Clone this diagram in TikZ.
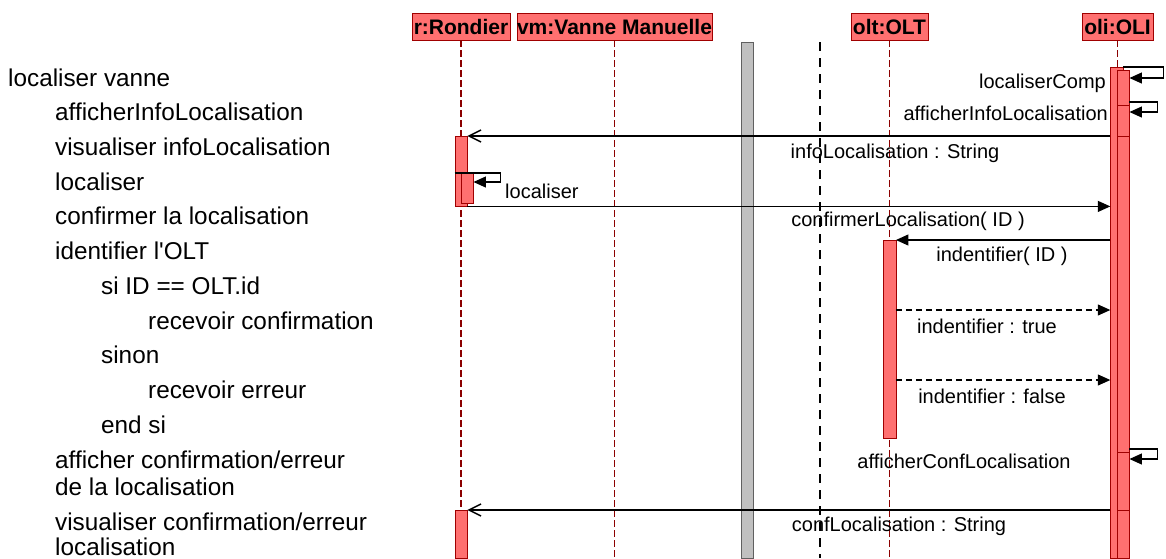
\documentclass[tikz,border=0pt]{standalone}
\usepackage{fontspec}
\setmainfont{Liberation Sans}
\usetikzlibrary{arrows.meta}
\definecolor{actfill}{HTML}{FF7070}
\definecolor{actline}{HTML}{A00000}
\definecolor{lifecol}{HTML}{8B0000}
\definecolor{barfill}{HTML}{C0C0C0}
\definecolor{barline}{HTML}{606060}

\begin{document}
\begin{tikzpicture}[x=1pt,y=-1pt]
    \tikzset{head/.style = {shape=rectangle,draw=actline,fill=actfill,minimum height=27pt,inner sep=0pt,font=\bfseries\fontsize{21}{25}\selectfont}}
    \tikzset{act/.style = {shape=rectangle,draw=actline,fill=actfill,minimum width=12.5pt,inner sep=0pt,anchor=north}}
    \tikzset{life/.style = {draw=lifecol,line width=1.8pt,dash pattern=on 7pt off 3pt}}
    \tikzset{guard/.style = {draw=black,line width=1.8pt,dash pattern=on 9pt off 7pt}}
    \tikzset{txt/.style = {anchor=base west,inner sep=0pt,font=\fontsize{24.3}{29}\selectfont}}
    \tikzset{lbl/.style = {anchor=base,inner sep=0pt,font=\fontsize{20}{24}\selectfont}}
    \tikzset{call/.style = {line width=1.2pt,-{Triangle[length=12.5pt,width=11pt]}}}
    \tikzset{reply/.style = {call,dash pattern=on 6pt off 4pt}}
    \tikzset{ret/.style = {line width=1.2pt,-{Straight Barb[length=12pt,width=12pt,line width=1.4pt]}}}

    \useasboundingbox (0,0) rectangle (1166,558);
    \coordinate (bot) at (0,558);

    % left text
    \node[txt] (t0) at (8,86) {localiser vanne};
    \node[txt] (t1) at (55,120) {afficherInfoLocalisation};
    \node[txt] (t2) at (55,155) {visualiser infoLocalisation};
    \node[txt] (t3) at (55,190) {localiser};
    \node[txt] (t4) at (55,224) {confirmer la localisation};
    \node[txt] (t5) at (55,259) {identifier l\textquotesingle OLT};
    \node[txt] (t6) at (101,294) {si ID == OLT.id};
    \node[txt] (t7) at (148,329) {recevoir confirmation};
    \node[txt] (t8) at (101,363) {sinon};
    \node[txt] (t9) at (148,398) {recevoir erreur};
    \node[txt] (t10) at (101,433) {end si};
    \node[txt] (t11) at (55,468) {afficher confirmation/erreur};
    \node[txt] (t12) at (55,495) {de la localisation};
    \node[txt] (t13) at (55,530) {visualiser confirmation/erreur};
    \node[txt] (t14) at (55,555) {localisation};

    % heads
    \node[head,minimum width=98pt] (r) at (461,26.5) {r:Rondier};
    \node[head,minimum width=195pt] (vm) at (614.5,26.5) {vm:Vanne Manuelle};
    \node[head,minimum width=77pt] (olt) at (889.5,26.5) {olt:OLT};
    \node[head,minimum width=71pt] (oli) at (1117.5,26.5) {oli:OLI};

    % lifelines
    \draw[life] (r.south) -- (r.south |- bot);
    \draw[life] (vm.south) -- (vm.south |- bot);
    \draw[life] (olt.south) -- (olt.south |- bot);
    \draw[life] (oli.south) -- (oli.south |- bot);
    \node[shape=rectangle,draw=barline,fill=barfill,line width=1pt,minimum width=12pt,minimum height=516pt,inner sep=0pt,anchor=north] (sep) at (747,42) {};
    \coordinate (g1) at (820,42);
    \coordinate (g2) at (820,558);
    \draw[guard] (g1) -- (g2);

    % activations
    \node[act,minimum height=70pt] (ra1) at (461,136) {};
    \node[act,minimum height=30pt] (ra2) at (467,173) {};
    \node[act,minimum height=48pt] (ra3) at (461,510) {};
    \node[act,minimum height=198pt] (ta) at (889.5,240) {};
    \node[act,minimum height=491pt] (oa1) at (1116.75,67) {};
    \node[act,minimum height=488pt] (oa2) at (1123,70) {};
    \node[act,minimum height=31pt] (oa3) at (1123,105) {};
    \node[act,minimum height=58pt] (oa4) at (1123,452) {};

    % messages
    \draw[call] (oa1.north east) -- ++(40,0) |- ([yshift=-8pt]oa2.north east);
    \node[lbl,anchor=base east] (m1) at (1106,88) {localiserComp};
    \draw[call] ([yshift=3pt]oa3.north east) -- ++(28,0) |- ([yshift=-7pt]oa3.north east);
    \node[lbl,anchor=base east] (m2) at (1108,120) {afficherInfoLocalisation};
    \draw[ret] (oa1.west |- ra1.north) -- (ra1.north east);
    \node[lbl] (m3) at (895,158.5) {infoLocalisation : String};
    \draw[call] (ra1.west |- ra2.north) -- ++(46,0) |- ([yshift=-9pt]ra2.north east);
    \node[lbl,anchor=base west] (m4) at (505,198) {localiser};
    \draw[call] (ra1.south east) -- (oa1.west |- ra1.south);
    \node[lbl] (m5) at (908,226.5) {confirmerLocalisation( ID )};
    \draw[call] (oa1.west |- ta.north) -- (ta.north east);
    \node[lbl] (m6) at (1002,261) {indentifier( ID )};
    \coordinate (yt) at (0,310);
    \coordinate (yf) at (0,380);
    \draw[reply] (ta.east |- yt) -- (oa1.west |- yt);
    \node[lbl] (m7) at (987,333) {indentifier : true};
    \draw[reply] (ta.east |- yf) -- (oa1.west |- yf);
    \node[lbl] (m8) at (992,403) {indentifier : false};
    \draw[call] ([yshift=3pt]oa4.north east) -- ++(28,0) |- ([yshift=-7pt]oa4.north east);
    \node[lbl] (m9) at (964,468) {afficherConfLocalisation};
    \draw[ret] (oa1.west |- ra3.north) -- (ra3.north east);
    \node[lbl] (m10) at (899,531.5) {confLocalisation : String};
\end{tikzpicture}
\end{document}
